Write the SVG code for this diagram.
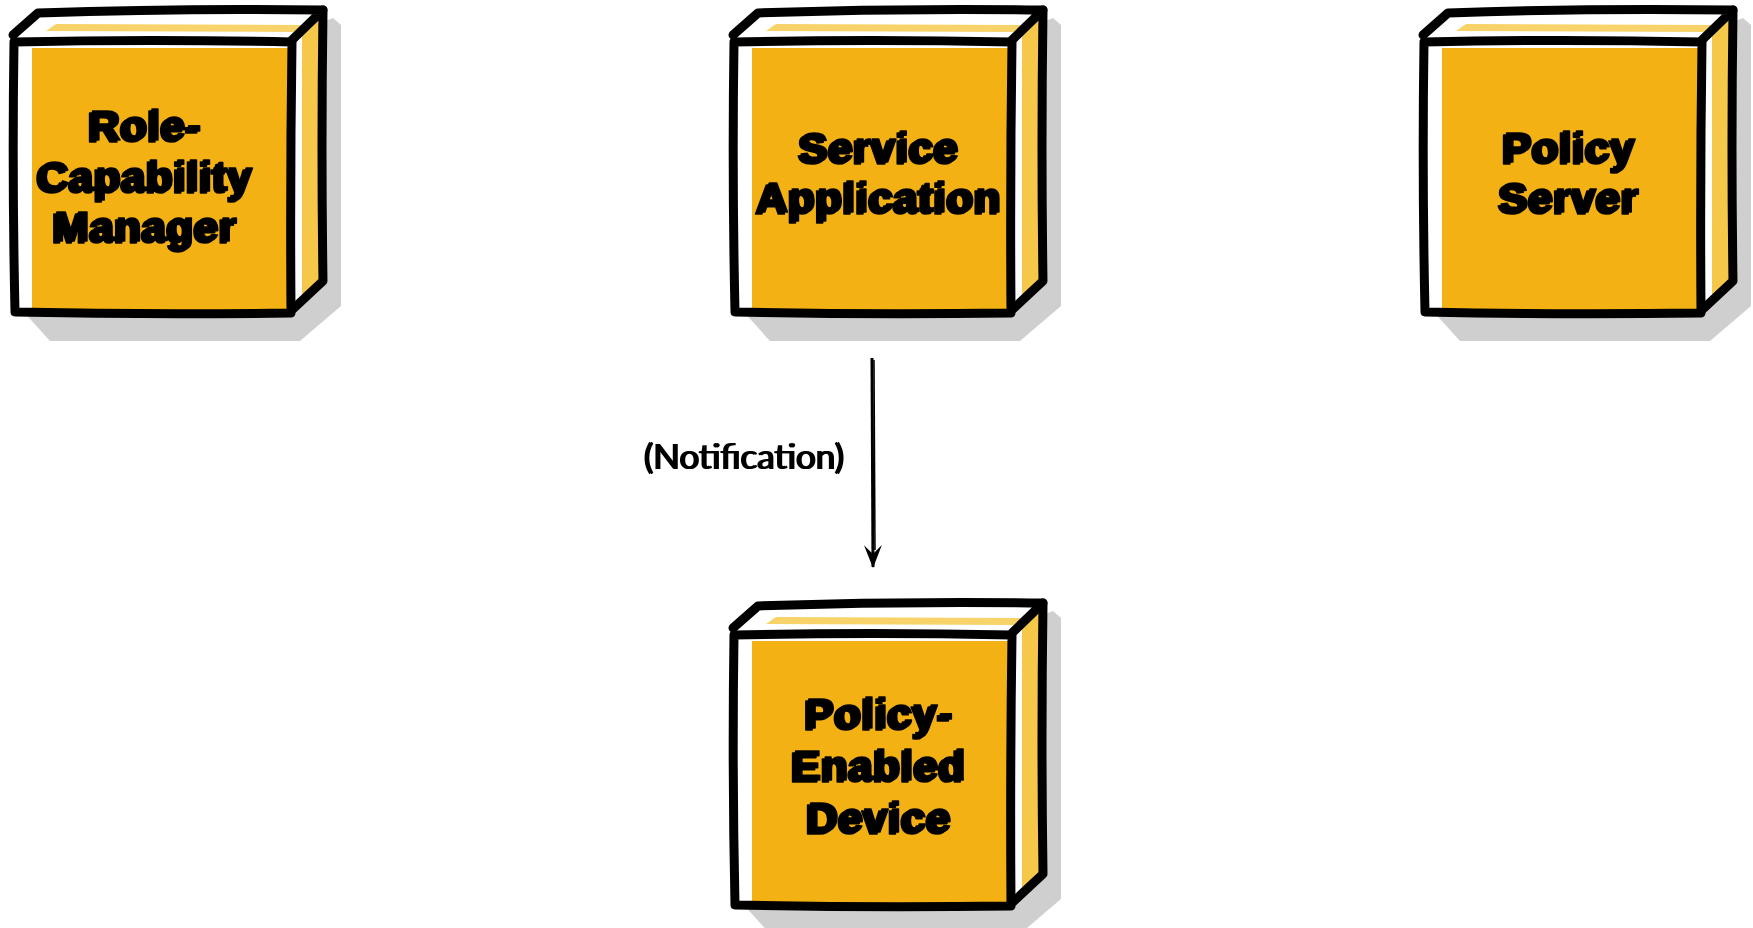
<svg xmlns="http://www.w3.org/2000/svg" xmlns:xlink="http://www.w3.org/1999/xlink" width="1753" height="928" viewBox="0 0 1753 928">
<style>
.ln{fill:none;stroke:#000;stroke-width:9;stroke-linejoin:round;stroke-linecap:round}
.t{font-family:"Liberation Sans",Arial,sans-serif;font-weight:700;font-size:43px;fill:#000;stroke:#000;stroke-width:1.6;stroke-linejoin:round;text-anchor:middle;letter-spacing:1px;filter:url(#dbl)}
.lbl{font-family:Lato,"Liberation Sans",sans-serif;font-weight:400;font-size:35px;fill:#000;text-anchor:middle;filter:url(#dbl2)}
.edge{fill:none;stroke:#000;stroke-width:3}
</style>
<defs>
<filter id="dbl" x="-10%" y="-20%" width="120%" height="140%">
<feOffset in="SourceGraphic" dx="-3" dy="2" result="o"/>
<feMerge><feMergeNode in="o"/><feMergeNode in="SourceGraphic"/></feMerge>
</filter>
<filter id="dbl2" x="-10%" y="-20%" width="120%" height="140%">
<feOffset in="SourceGraphic" dx="-2" dy="0" result="o"/>
<feMerge><feMergeNode in="o"/><feMergeNode in="SourceGraphic"/></feMerge>
</filter>
<g id="box">
<polygon points="2,262 40,304 290,304 331,269 331,-12 323,-19 300,-10 2,0" fill="#cfcfcf"/>
<polygon points="4,4 29,-25 313,-27 282,4" fill="#fff"/>
<polygon points="36,-6 46,-13 292,-12 284,-5" fill="#f8d36a"/>
<polygon points="282,4 313,-27 313,244 282,276" fill="#f6c84a"/>
<polygon points="282,4 292,-6 292,266 282,276" fill="#fff"/>
<rect x="4" y="4" width="278" height="272" fill="#fff"/>
<rect x="22" y="11" width="256" height="263" fill="#f4b114"/>
<path class="ln" d="M4,5 Q140,2 282,5 Q280,140 281,276 Q140,278 5,275 Q2,140 4,5 Z"/>
<path class="ln" d="M3,-2 L28,-24 Q170,-29 313,-27 L282,3"/>
<path class="ln" d="M313,-27 Q311,110 313,244 L283,272"/>
</g>
<marker id="ah" markerWidth="24" markerHeight="18" refX="22" refY="9" orient="auto" markerUnits="userSpaceOnUse" viewBox="0 0 24 18">
<path d="M0,0 L23,9 L0,18 L9,9 Z" fill="#000"/>
</marker>
</defs>
<g id="connectors">
<path class="edge" d="M872,358 L873,567" marker-end="url(#ah)"/>
<path d="M874,360 L875,550" fill="none" stroke="#000" stroke-width="1.5"/>
<text class="lbl" x="745" y="469">(Notification)</text>
</g>
<g id="node-rcm">
<use xlink:href="#box" x="10" y="37"/>
<text class="t" x="146" y="140"><tspan x="146" y="140">Role-</tspan><tspan x="146" y="191">Capability</tspan><tspan x="146" y="241">Manager</tspan></text>
</g>
<g id="node-sa">
<use xlink:href="#box" x="730" y="37"/>
<text class="t" x="880" y="162"><tspan x="880" y="162">Service</tspan><tspan x="880" y="212">Application</tspan></text>
</g>
<g id="node-ps">
<use xlink:href="#box" x="1420" y="37"/>
<text class="t" x="1570" y="162"><tspan x="1570" y="162">Policy</tspan><tspan x="1570" y="212">Server</tspan></text>
</g>
<g id="node-ped">
<use xlink:href="#box" x="730" y="630"/>
<text class="t" x="880" y="728"><tspan x="880" y="728">Policy-</tspan><tspan x="880" y="780">Enabled</tspan><tspan x="880" y="832">Device</tspan></text>
</g>
</svg>
